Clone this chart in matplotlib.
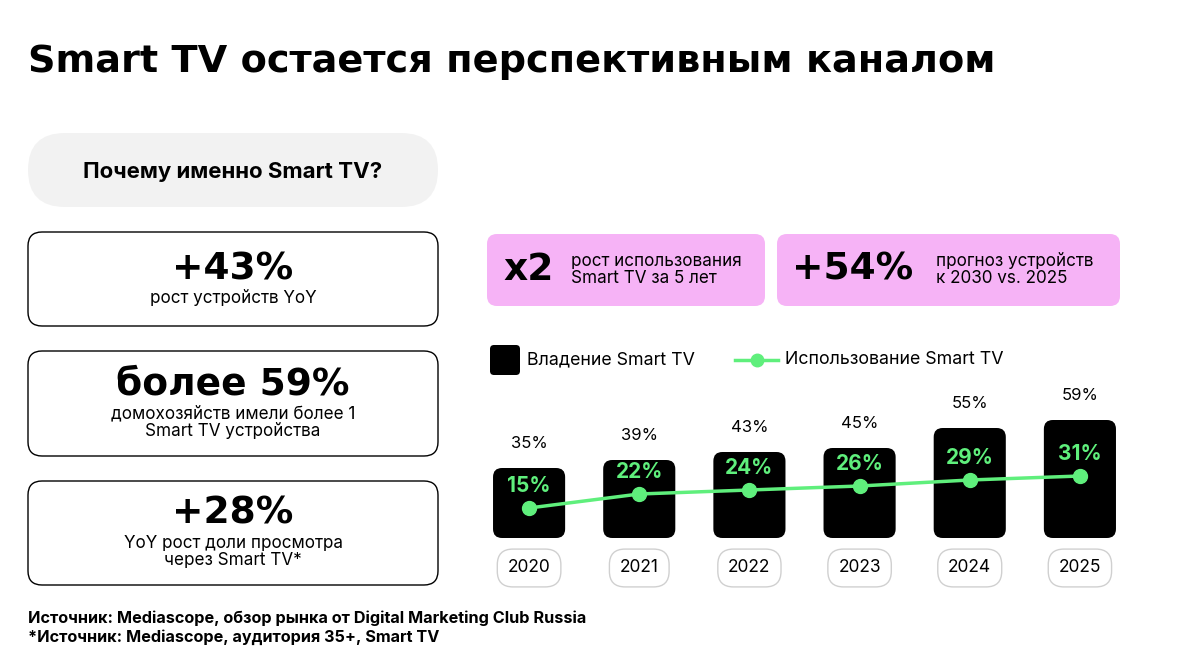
import matplotlib
matplotlib.use('Agg')
import matplotlib.pyplot as plt
from matplotlib.patches import FancyBboxPatch
from matplotlib.lines import Line2D

plt.rcParams['font.family'] = ['Inter', 'DejaVu Sans']

years = ['2020', '2021', '2022', '2023', '2024', '2025']
ownership = [35, 39, 43, 45, 55, 59]
usage = [15, 22, 24, 26, 29, 31]

GREEN = '#5fef7c'
PINK = '#f6b3f6'
W, H = 1186, 664

fig = plt.figure(figsize=(W / 100, H / 100), dpi=100)
bg = fig.add_axes([0, 0, 1, 1])
bg.set_xlim(0, W)
bg.set_ylim(H, 0)
bg.axis('off')

def rbox(x0, y0, x1, y1, r, fc, ec='none', lw=0):
    bg.add_patch(FancyBboxPatch((x0 + r, y0 + r), x1 - x0 - 2 * r, y1 - y0 - 2 * r,
                                boxstyle='round,pad=%g' % r, fc=fc, ec=ec, lw=lw))

bg.text(28, 62, 'Smart TV остается перспективным каналом', fontsize=27.5,
        fontweight='heavy', va='center', family=['DejaVu Sans'])

# left panel
rbox(28, 133, 438, 207, 37, '#f2f2f2')
bg.text(233, 172, 'Почему именно Smart TV?', fontsize=16, fontweight='bold', ha='center', va='center')
cards = [
    (232, 326, '+43%', 'рост устройств YoY'),
    (351, 456, 'более 59%', 'домохозяйств имели более 1\nSmart TV устройства'),
    (481, 585, '+28%', 'YoY рост доли просмотра\nчерез Smart TV*'),
]
for y0, y1, big, small in cards:
    rbox(28, y0, 438, y1, 14, 'white', 'black', 1.0)
    nl = small.count('\n')
    yb = (y0 + y1) / 2 - 10 - nl * 9
    bg.text(233, yb, big, fontsize=27, fontweight='heavy', ha='center', va='center',
            family=['DejaVu Sans'])
    bg.text(233, yb + 29 + nl * 9, small, fontsize=12.3, ha='center', va='center', linespacing=1.05)

# pink boxes
rbox(487, 234, 765, 306, 10, PINK)
bg.text(503, 270, 'x2', fontsize=27, fontweight='heavy', va='center', family=['DejaVu Sans'])
bg.text(571, 270, 'рост использования\nSmart TV за 5 лет', fontsize=12.3, va='center', linespacing=1.05)
rbox(777, 234, 1120, 306, 10, PINK)
bg.text(792, 270, '+54%', fontsize=27, fontweight='heavy', va='center', family=['DejaVu Sans'])
bg.text(936, 270, 'прогноз устройств\nк 2030 vs. 2025', fontsize=12.3, va='center', linespacing=1.05)

# legend
rbox(490, 345, 520, 375, 4, 'black')
bg.text(527, 360, 'Владение Smart TV', fontsize=12.8, va='center')
bg.add_line(Line2D([735, 778], [360, 360], color=GREEN, lw=2.5))
bg.plot([757], [360], 'o', color=GREEN, ms=9)
bg.text(785, 360, 'Использование Smart TV', fontsize=12.8, va='center')

# footnotes
bg.text(28, 618, 'Источник: Mediascope, обзор рынка от Digital Marketing Club Russia',
        fontsize=11.7, fontweight='bold', va='center')
bg.text(28, 637, '*Источник: Mediascope, аудитория 35+, Smart TV',
        fontsize=11.7, fontweight='bold', va='center')

# chart
left, bottom = 474, 538
ax = fig.add_axes([left / W, (H - bottom) / H, 661 / W, 200 / H])
ax.set_xlim(-0.5, 5.5)
ax.set_ylim(0, 100)
ax.axis('off')
bw = 72 / 110
rx = 9 / 110
ry = 9 / 2
for i, v in enumerate(ownership):
    ax.add_patch(FancyBboxPatch((i - bw / 2 + rx, ry), bw - 2 * rx, v - 2 * ry,
                                boxstyle='round,pad=%g' % rx, mutation_aspect=ry / rx,
                                fc='black', ec='none'))
    ax.text(i, v + 12, '%d%%' % v, fontsize=12, ha='center', va='center')
    ax.text(i, -15, years[i], fontsize=12.5, ha='center', va='center',
            bbox=dict(boxstyle='round,pad=0.6,rounding_size=0.9', fc='white', ec='#d0d0d0', lw=1),
            clip_on=False)
ax.plot(range(len(usage)), usage, '-o', color=GREEN, lw=2.5, ms=10, zorder=5)
for i, v in enumerate(usage):
    ax.text(i, v + 11, '%d%%' % v, fontsize=15, fontweight='bold', color=GREEN,
            ha='center', va='center', zorder=6)

fig.savefig('out.png', dpi=100)
